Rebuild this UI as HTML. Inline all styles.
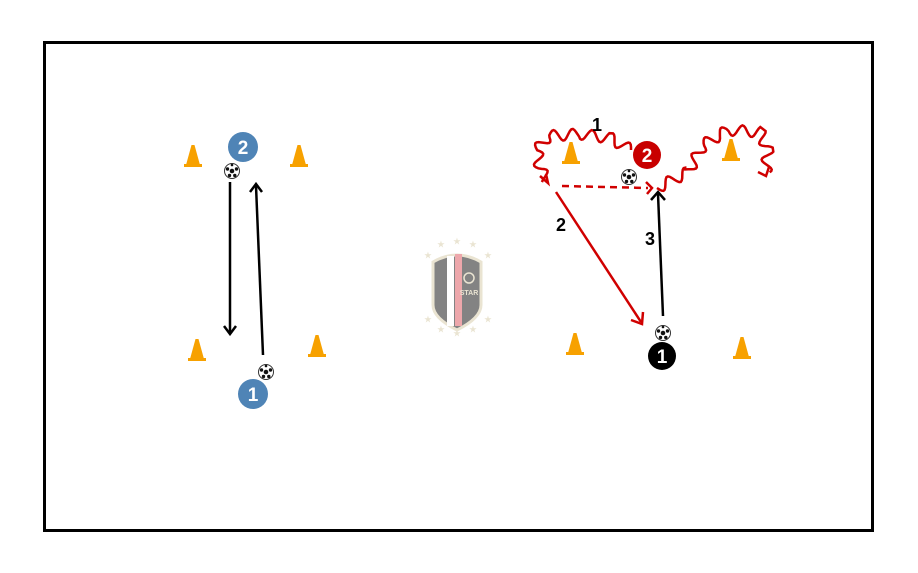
<!DOCTYPE html>
<html><head><meta charset="utf-8"><style>
html,body{margin:0;padding:0;background:#fff;width:918px;height:573px;overflow:hidden}
svg{display:block}
text{font-family:"Liberation Sans",sans-serif;font-weight:bold}
</style></head><body>
<svg id="s" width="918" height="573" viewBox="0 0 918 573" xmlns="http://www.w3.org/2000/svg">
<defs>
<g id="cone"><polygon points="-1.5,-13 1.5,-13 7,7 -7,7" fill="#f7a100"/><rect x="-9" y="6" width="18" height="3" fill="#f7a100"/></g>
<g id="ball"><circle r="7.5" fill="#fff" stroke="#333" stroke-width="1"/><circle r="2.3" fill="#111"/><circle cx="-4.5" cy="-2" r="1.7" fill="#111"/><circle cx="4.5" cy="-2" r="1.7" fill="#111"/><circle cx="-2.5" cy="4.5" r="1.7" fill="#111"/><circle cx="2.8" cy="4.5" r="1.7" fill="#111"/><circle cx="0" cy="-6" r="1.3" fill="#111"/></g>
</defs>
<rect x="44.5" y="42.5" width="828" height="488" fill="#fff" stroke="#000" stroke-width="3"/>

<!-- left drill -->
<use href="#cone" x="193" y="158"/><use href="#cone" x="299" y="158"/>
<use href="#cone" x="197" y="352"/><use href="#cone" x="317" y="348"/>
<line x1="230" y1="182" x2="230" y2="333" stroke="#000" stroke-width="2.5"/>
<polyline points="224,326 230,334 236,326" fill="none" stroke="#000" stroke-width="2.5"/>
<line x1="263" y1="355" x2="256" y2="186" stroke="#000" stroke-width="2.5"/>
<polyline points="250,192 256,184 262,192" fill="none" stroke="#000" stroke-width="2.5"/>
<circle cx="243" cy="147" r="15" fill="#4f84b6"/><text x="243" y="154" font-size="19" fill="#fff" text-anchor="middle">2</text>
<circle cx="253" cy="394" r="15" fill="#4f84b6"/><text x="253" y="401" font-size="19" fill="#fff" text-anchor="middle">1</text>
<use href="#ball" x="232" y="171"/><use href="#ball" x="266" y="372"/>

<!-- logo -->
<g opacity="0.75">
<path d="M433,262 Q457,248 481,262 L481,305 Q481,318 457,330 Q433,318 433,305 Z" fill="#5a5a5a" stroke="#e3dcc4" stroke-width="3"/>
<rect x="447" y="256" width="7" height="70" fill="#fff"/>
<rect x="455" y="254" width="7" height="72" fill="#e88a8f"/>
<text x="469" y="295" font-size="7" fill="#e3dcc4" text-anchor="middle">STAR</text>
<circle cx="469" cy="278" r="5" fill="none" stroke="#e3dcc4" stroke-width="1.5"/>
<g fill="#e3dcc4" font-size="8" text-anchor="middle" font-family="DejaVu Sans">
<text x="457" y="244">★</text><text x="441" y="247">★</text><text x="473" y="247">★</text><text x="428" y="258">★</text><text x="488" y="258">★</text>
<text x="428" y="322">★</text><text x="488" y="322">★</text><text x="441" y="332">★</text><text x="473" y="332">★</text><text x="457" y="336">★</text></g>
</g>

<!-- right drill -->
<use href="#cone" x="571" y="155"/><use href="#cone" x="731" y="152"/>
<use href="#cone" x="575" y="346"/><use href="#cone" x="742" y="350"/>
<path id="w1" fill="none" stroke="#d00000" stroke-width="2.5"/>
<path id="w2" fill="none" stroke="#d00000" stroke-width="2.5"/>
<polyline points="540,176 548,183 546,174" fill="none" stroke="#d00000" stroke-width="2.5"/>
<polyline points="758,172 766,176 769,167" fill="none" stroke="#d00000" stroke-width="2.5"/>
<line x1="562" y1="186" x2="648" y2="188" stroke="#d00000" stroke-width="2.5" stroke-dasharray="7,5"/>
<polyline points="646,182 652,188 647,194" fill="none" stroke="#d00000" stroke-width="2.5"/>
<line x1="556" y1="192" x2="641" y2="322" stroke="#d00000" stroke-width="2.5"/>
<polyline points="631,320 642,324 643,312" fill="none" stroke="#d00000" stroke-width="2.5"/>
<line x1="663" y1="316" x2="658" y2="194" stroke="#000" stroke-width="2.5"/>
<polyline points="651,200 658,192 665,200" fill="none" stroke="#000" stroke-width="2.5"/>
<text x="597" y="131" font-size="18" fill="#000" text-anchor="middle">1</text>
<text x="561" y="231" font-size="18" fill="#000" text-anchor="middle">2</text>
<text x="650" y="245" font-size="18" fill="#000" text-anchor="middle">3</text>
<circle cx="647" cy="155" r="14" fill="#c80000"/><text x="647" y="162" font-size="19" fill="#fff" text-anchor="middle">2</text>
<circle cx="662" cy="356" r="14" fill="#000"/><text x="662" y="363" font-size="19" fill="#fff" text-anchor="middle">1</text>
<use href="#ball" x="629" y="177"/><use href="#ball" x="663" y="333"/>
</svg>
<script>
function wave(pts,amp,wl){
 var d="",L=[],tot=0;
 for(var i=1;i<pts.length;i++){var l=Math.hypot(pts[i][0]-pts[i-1][0],pts[i][1]-pts[i-1][1]);L.push(l);tot+=l;}
 var n=Math.round(tot/1.5);
 for(var k=0;k<=n;k++){
  var s=tot*k/n,j=0;while(j<L.length-1&&s>L[j]){s-=L[j];j++;}
  var a=pts[j],b=pts[j+1];
  var dx=(b[0]-a[0])/L[j],dy=(b[1]-a[1])/L[j];
  var o=amp*Math.sin(2*Math.PI*(tot*k/n)/wl);
  var x=a[0]+dx*s-dy*o,y=a[1]+dy*s+dx*o;
  d+=(k?"L":"M")+x.toFixed(1)+","+y.toFixed(1);
 }
 return d;
}
document.getElementById("w1").setAttribute("d",wave([[631,150],[610,138],[580,134],[548,136],[537,150],[540,168],[546,180]],5.5,19));
document.getElementById("w2").setAttribute("d",wave([[657,188],[688,172],[703,145],[728,130],[760,132],[768,150],[766,172]],5.5,19));
</script>
</body></html>
